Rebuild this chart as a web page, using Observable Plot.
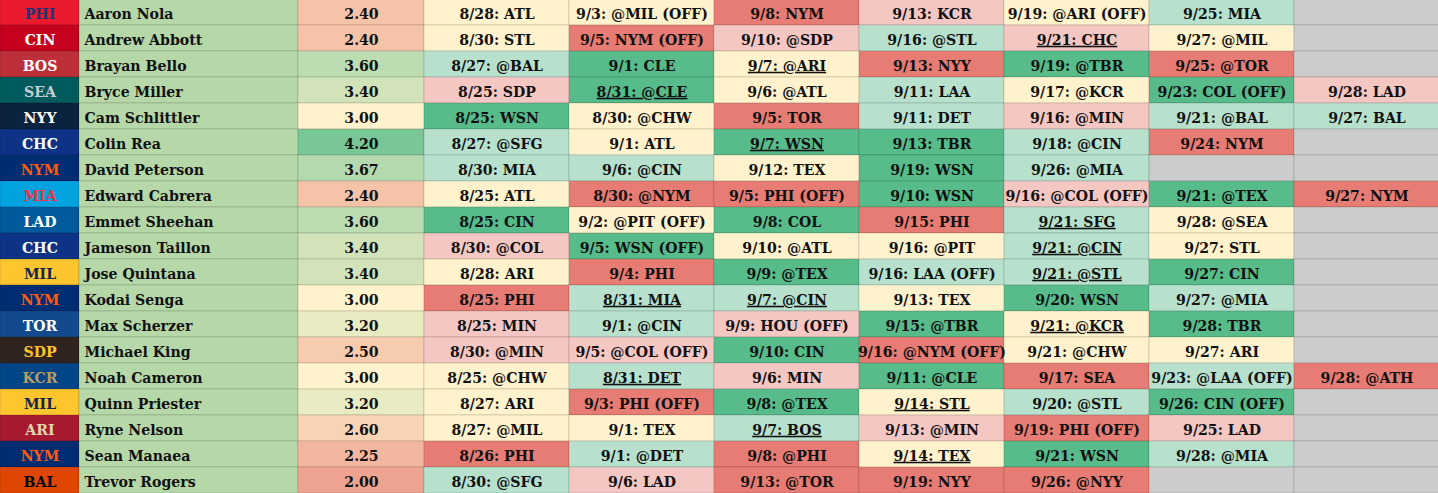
<!DOCTYPE html>
<html><head><meta charset="utf-8">
<script src="https://cdn.jsdelivr.net/npm/d3@7"></script>
<script src="https://cdn.jsdelivr.net/npm/@observablehq/plot@0.6"></script>
<style>html,body{margin:0;padding:0;background:#fff;overflow:hidden}</style>
</head><body><div id="chart"></div>
<script>
// ---------- DATA ----------
const pitchers = ["Aaron Nola","Andrew Abbott","Brayan Bello","Bryce Miller","Cam Schlittler","Colin Rea","David Peterson","Edward Cabrera","Emmet Sheehan","Jameson Taillon","Jose Quintana","Kodai Senga","Max Scherzer","Michael King","Noah Cameron","Quinn Priester","Ryne Nelson","Sean Manaea","Trevor Rogers"];
const teams = ["PHI","CIN","BOS","SEA","NYY","CHC","NYM","MIA","LAD","CHC","MIL","NYM","TOR","SDP","KCR","MIL","ARI","NYM","BAL"];
const scores = [2.40,2.40,3.60,3.40,3.00,4.20,3.67,2.40,3.60,3.40,3.40,3.00,3.20,2.50,3.00,3.20,2.60,2.25,2.00];
const matchups = [
 ["8/28: ATL","9/3: @MIL (OFF)","9/8: NYM","9/13: KCR","9/19: @ARI (OFF)","9/25: MIA",""],
 ["8/30: STL","9/5: NYM (OFF)","9/10: @SDP","9/16: @STL","9/21: CHC","9/27: @MIL",""],
 ["8/27: @BAL","9/1: CLE","9/7: @ARI","9/13: NYY","9/19: @TBR","9/25: @TOR",""],
 ["8/25: SDP","8/31: @CLE","9/6: @ATL","9/11: LAA","9/17: @KCR","9/23: COL (OFF)","9/28: LAD"],
 ["8/25: WSN","8/30: @CHW","9/5: TOR","9/11: DET","9/16: @MIN","9/21: @BAL","9/27: BAL"],
 ["8/27: @SFG","9/1: ATL","9/7: WSN","9/13: TBR","9/18: @CIN","9/24: NYM",""],
 ["8/30: MIA","9/6: @CIN","9/12: TEX","9/19: WSN","9/26: @MIA","",""],
 ["8/25: ATL","8/30: @NYM","9/5: PHI (OFF)","9/10: WSN","9/16: @COL (OFF)","9/21: @TEX","9/27: NYM"],
 ["8/25: CIN","9/2: @PIT (OFF)","9/8: COL","9/15: PHI","9/21: SFG","9/28: @SEA",""],
 ["8/30: @COL","9/5: WSN (OFF)","9/10: @ATL","9/16: @PIT","9/21: @CIN","9/27: STL",""],
 ["8/28: ARI","9/4: PHI","9/9: @TEX","9/16: LAA (OFF)","9/21: @STL","9/27: CIN",""],
 ["8/25: PHI","8/31: MIA","9/7: @CIN","9/13: TEX","9/20: WSN","9/27: @MIA",""],
 ["8/25: MIN","9/1: @CIN","9/9: HOU (OFF)","9/15: @TBR","9/21: @KCR","9/28: TBR",""],
 ["8/30: @MIN","9/5: @COL (OFF)","9/10: CIN","9/16: @NYM (OFF)","9/21: @CHW","9/27: ARI",""],
 ["8/25: @CHW","8/31: DET","9/6: MIN","9/11: @CLE","9/17: SEA","9/23: @LAA (OFF)","9/28: @ATH"],
 ["8/27: ARI","9/3: PHI (OFF)","9/8: @TEX","9/14: STL","9/20: @STL","9/26: CIN (OFF)",""],
 ["8/27: @MIL","9/1: TEX","9/7: BOS","9/13: @MIN","9/19: PHI (OFF)","9/25: LAD",""],
 ["8/26: PHI","9/1: @DET","9/8: @PHI","9/14: TEX","9/21: WSN","9/28: @MIA",""],
 ["8/30: @SFG","9/6: LAD","9/13: @TOR","9/19: NYY","9/26: @NYY","",""]
];
// matchup rating per slot: R = worst, P, Y, G, D = best, - = no start
const ratings = ["YYRPYG-","YRPGPY-","GDYRDR-","PDYGYDP","DYRGPGG","GYDDGR-","GGYDG--","YRRDPDR","DYDRGY-","PDYYGY-","YRDGGD-","RGGYDG-","PGPDYD-","PPDRYY-","YGPDRGR","YRDYGD-","YYGPRP-","RGRYDG-","GPRRR--"];
// [pitcher index, slot] of underlined matchups
const underlined = [[1,4],[2,2],[3,1],[5,2],[8,4],[9,4],[10,4],[11,1],[11,2],[12,4],[14,1],[15,3],[16,2],[17,3]];

// ---------- STYLE / LAYOUT ----------
const colWidths = [79,219,126,145,145,145,145,145,145,145];
const colStart = [0];
colWidths.forEach(w => colStart.push(colStart[colStart.length-1] + w));
const mid = c => (colStart[c] + colStart[c+1]) / 2;
const FONT = '"DejaVu Serif Condensed","DejaVu Serif",serif';
const FS = 15.7;
const teamColors = {
  PHI:["#EA1A2C","#1F3477"], CIN:["#C6011F","#FFFFFF"], BOS:["#BD3039","#FFFFFF"],
  SEA:["#005C5C","#C4CED4"], NYY:["#0C2340","#FFFFFF"], CHC:["#0E3386","#FFFFFF"],
  NYM:["#002D72","#FF5910"], MIA:["#00A3E0","#EF3340"], LAD:["#005A9C","#FFFFFF"],
  MIL:["#FFC52F","#12284B"], TOR:["#134A8E","#FFFFFF"], SDP:["#2F241D","#FFC425"],
  KCR:["#004687","#BD9B60"], ARI:["#A71930","#E3D4AD"], BAL:["#DF4601","#000000"]
};
const levelScale = Plot.scale({color:{type:"ordinal", domain:["R","P","Y","G","D","-"],
  range:["#E67C73","#F4C7C3","#FFF2CC","#B7E1CD","#57BB8A","#CCCCCC"]}});
const scoreScale = Plot.scale({color:{type:"linear", domain:[1.5,3,4.5],
  range:["#E67C73","#FFF2CC","#57BB8A"], interpolate:"rgb"}});

const cells = [];
const games = [];
const uSet = new Set(underlined.map(([i,k]) => i + "|" + k));
pitchers.forEach((p, i) => {
  cells.push({p, col:0, fill: teamColors[teams[i]][0]});
  cells.push({p, col:1, fill: "#B6D7A8"});
  cells.push({p, col:2, fill: scoreScale.apply(scores[i])});
  for (let k = 0; k < 7; k++) {
    cells.push({p, col:3+k, fill: levelScale.apply(ratings[i][k])});
    if (matchups[i][k]) games.push({p, col:3+k, label: matchups[i][k], u: uSet.has(i + "|" + k)});
  }
});

const textOpts = {fontSize: FS, fontWeight: "bold", fontFamily: FONT, dy: 1.2};
const plot = Plot.plot({
  width: 1438, height: 493, margin: 0,
  style: {background: "#fff"},
  x: {type: "linear", domain: [0, colStart[colStart.length-1]], range: [0, colStart[colStart.length-1]], axis: null},
  y: {type: "band", domain: pitchers, range: [-1, 493], padding: 0, axis: null},
  color: {type: "identity"},
  marks: [
    Plot.barX(cells, {x1: d => colStart[d.col], x2: d => colStart[d.col+1], y: "p", fill: "fill",
      stroke: "#000", strokeOpacity: 0.13, strokeWidth: 1}),
    Plot.text(teams, {x: () => mid(0), y: (d, i) => pitchers[i], text: d => d,
      fill: d => teamColors[d][1], ...textOpts}),
    Plot.text(pitchers, {x: () => colStart[1] + 5, y: d => d, text: d => d, textAnchor: "start",
      fill: "#111", ...textOpts}),
    Plot.text(scores, {x: () => mid(2), y: (d, i) => pitchers[i], text: d => d.toFixed(2),
      fill: "#111", ...textOpts}),
    Plot.text(games.filter(g => !g.u), {x: d => mid(d.col), y: "p", text: "label", fill: "#111", ...textOpts}),
    Plot.text(games.filter(g => g.u), {x: d => mid(d.col), y: "p", text: "label", fill: "#111",
      ariaLabel: () => "underlined", ...textOpts})
  ]
});
document.getElementById("chart").appendChild(plot);
d3.select(plot).selectAll('[aria-label="underlined"]').each(function() {
  const sel = d3.select(this);
  (this.tagName.toLowerCase() === "text" ? sel : sel.selectAll("text")).style("text-decoration", "underline");
});
</script></body></html>
